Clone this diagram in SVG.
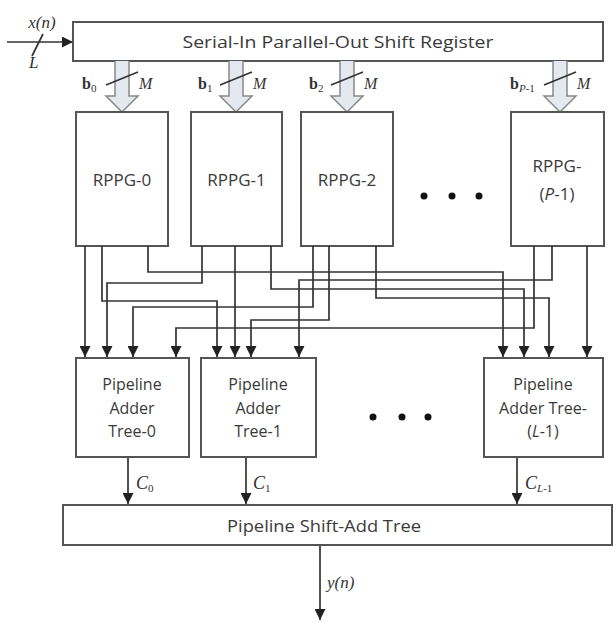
<svg xmlns="http://www.w3.org/2000/svg" width="616" height="623" viewBox="0 0 616 623">
<style>
.box{fill:#fff;stroke:#555;stroke-width:2}
.w{fill:none;stroke:#333;stroke-width:1.7}
.t{font-family:"Open Sans","Liberation Sans",sans-serif;fill:#3a3a3a;text-anchor:middle}
.m{font-family:"Liberation Serif",serif;font-style:italic;fill:#333}
.b{font-family:"Liberation Serif",serif;font-weight:bold;fill:#333}
.ba{fill:#e4e9ef;stroke:#888;stroke-width:1.5}
.dot{fill:#111}
</style>
<defs>
<marker id="ah" markerWidth="12" markerHeight="11" refX="11" refY="5.5" orient="auto" markerUnits="userSpaceOnUse">
<path d="M0,0 L11,5.5 L0,11 z" fill="#222"/>
</marker>
<g id="blk">
<path class="ba" d="M-7,0 V35 H-16 L0,51 L16,35 H7 V0"/>
</g>
</defs>

<g id="input">
<line class="w" x1="7" y1="42" x2="73" y2="42" marker-end="url(#ah)"/>
<line class="w" x1="32" y1="56" x2="43" y2="34"/>
<text class="m" x="42" y="28" font-size="17" text-anchor="middle">x(n)</text>
<text class="m" x="29" y="68" font-size="17">L</text>
</g>

<g id="sipo">
<rect class="box" x="73" y="22" width="530" height="39"/>
<text class="t" x="338" y="48" font-size="16.5" textLength="311" lengthAdjust="spacingAndGlyphs">Serial-In Parallel-Out Shift Register</text>
</g>

<g id="busarrows">
<use href="#blk" x="122" y="61"/>
<use href="#blk" x="236" y="61"/>
<use href="#blk" x="347" y="61"/>
<use href="#blk" x="560" y="61"/>
<line class="w" x1="106" y1="85" x2="138" y2="72"/>
<line class="w" x1="220" y1="85" x2="252" y2="72"/>
<line class="w" x1="331" y1="85" x2="363" y2="72"/>
<line class="w" x1="544" y1="85" x2="576" y2="72"/>
<text class="b" x="82" y="89" font-size="16">b<tspan font-size="11" dy="3" font-weight="normal">0</tspan></text>
<text class="b" x="198" y="89" font-size="16">b<tspan font-size="11" dy="3" font-weight="normal">1</tspan></text>
<text class="b" x="309" y="89" font-size="16">b<tspan font-size="11" dy="3" font-weight="normal">2</tspan></text>
<text class="b" x="510" y="89" font-size="16">b<tspan class="m" font-size="11" dy="3" font-weight="normal">P</tspan><tspan font-size="11" font-weight="normal">-1</tspan></text>
<text class="m" x="139" y="89" font-size="16">M</text>
<text class="m" x="253" y="89" font-size="16">M</text>
<text class="m" x="364" y="89" font-size="16">M</text>
<text class="m" x="577" y="89" font-size="16">M</text>
</g>

<g id="rppg0">
<rect class="box" x="76" y="112" width="92" height="134"/>
<text class="t" x="122" y="186" font-size="17">RPPG-0</text>
</g>
<g id="rppg1">
<rect class="box" x="191" y="112" width="91" height="134"/>
<text class="t" x="236.5" y="186" font-size="17">RPPG-1</text>
</g>
<g id="rppg2">
<rect class="box" x="301" y="112" width="92" height="134"/>
<text class="t" x="347" y="186" font-size="17">RPPG-2</text>
</g>
<g id="rppgdots">
<circle class="dot" cx="424" cy="196" r="3.5"/>
<circle class="dot" cx="452" cy="196" r="3.5"/>
<circle class="dot" cx="479" cy="196" r="3.5"/>
</g>
<g id="rppgP">
<rect class="box" x="511" y="112" width="93" height="134"/>
<text class="t" x="557" y="172" font-size="17">RPPG-</text>
<text class="t" x="557" y="200" font-size="17">(<tspan font-style="italic">P</tspan>-1)</text>
</g>

<g id="connectors">
<path class="w" d="M85,246 V357" marker-end="url(#ah)"/>
<path class="w" d="M102,246 V301 H217 V357" marker-end="url(#ah)"/>
<path class="w" d="M148,246 V272 H503 V357" marker-end="url(#ah)"/>
<path class="w" d="M202,246 V283 H107 V357" marker-end="url(#ah)"/>
<path class="w" d="M235,246 V357" marker-end="url(#ah)"/>
<path class="w" d="M271,246 V289 H524 V357" marker-end="url(#ah)"/>
<path class="w" d="M313,246 V307 H133 V357" marker-end="url(#ah)"/>
<path class="w" d="M329,246 V320 H251 V357" marker-end="url(#ah)"/>
<path class="w" d="M376,246 V298 H549 V357" marker-end="url(#ah)"/>
<path class="w" d="M534,246 V328 H176 V357" marker-end="url(#ah)"/>
<path class="w" d="M552,246 V280 H299 V357" marker-end="url(#ah)"/>
<path class="w" d="M587,246 V357" marker-end="url(#ah)"/>
<path class="w" d="M128,457 V504" marker-end="url(#ah)"/>
<path class="w" d="M246,457 V504" marker-end="url(#ah)"/>
<path class="w" d="M517,457 V504" marker-end="url(#ah)"/>
<path class="w" d="M320,545 V620" marker-end="url(#ah)"/>
</g>

<g id="tree0">
<rect class="box" x="76" y="358" width="113" height="99"/>
<text class="t" x="132" y="390" font-size="16">Pipeline</text>
<text class="t" x="132" y="414" font-size="16">Adder</text>
<text class="t" x="132" y="437" font-size="16">Tree-0</text>
</g>
<g id="tree1">
<rect class="box" x="201" y="358" width="115" height="99"/>
<text class="t" x="258" y="390" font-size="16">Pipeline</text>
<text class="t" x="258" y="414" font-size="16">Adder</text>
<text class="t" x="258" y="437" font-size="16">Tree-1</text>
</g>
<g id="treedots">
<circle class="dot" cx="373" cy="417" r="3.5"/>
<circle class="dot" cx="402" cy="417" r="3.5"/>
<circle class="dot" cx="428" cy="417" r="3.5"/>
</g>
<g id="treeL">
<rect class="box" x="484" y="358" width="119" height="99"/>
<text class="t" x="543" y="390" font-size="16">Pipeline</text>
<text class="t" x="543" y="414" font-size="16">Adder Tree-</text>
<text class="t" x="543" y="437" font-size="16">(<tspan font-style="italic">L</tspan>-1)</text>
</g>

<g id="clabels">
<text class="m" x="136" y="489" font-size="18">C<tspan font-size="11" dy="3" font-style="normal">0</tspan></text>
<text class="m" x="253" y="489" font-size="18">C<tspan font-size="11" dy="3" font-style="normal">1</tspan></text>
<text class="m" x="525" y="489" font-size="18">C<tspan font-size="11" dy="3">L</tspan><tspan font-size="11" font-style="normal">-1</tspan></text>
</g>

<g id="shiftadd">
<rect class="box" x="63" y="505" width="549" height="40"/>
<text class="t" x="324" y="532" font-size="16.5" textLength="194" lengthAdjust="spacingAndGlyphs">Pipeline Shift-Add Tree</text>
</g>

<g id="output">
<text class="m" x="327" y="588" font-size="17">y(n)</text>
</g>
</svg>
